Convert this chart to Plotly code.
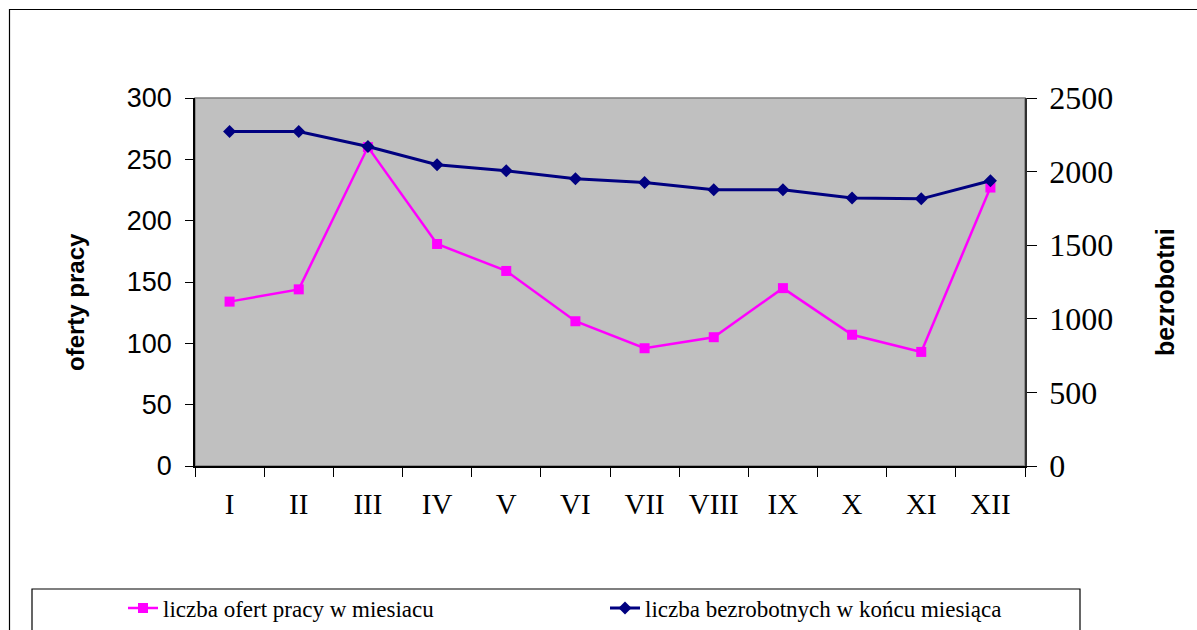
import plotly.graph_objects as go

months = ["I", "II", "III", "IV", "V", "VI", "VII", "VIII", "IX", "X", "XI", "XII"]
oferty = [134, 144, 260, 181, 159, 118, 96, 105, 145, 107, 93, 227]
bezrobotni = [2273, 2273, 2171, 2047, 2006, 1951, 1926, 1877, 1877, 1820, 1815, 1938]
left_ticks = [0, 50, 100, 150, 200, 250, 300]
right_ticks = [0, 500, 1000, 1500, 2000, 2500]

W, H = 1197, 630
L, R, T, B = 195, 1025, 98, 466
pw, ph = R - L, B - T

def px(x):
    return (x - L) / pw

def py(y):
    return (B - y) / ph

SERIF = "Liberation Serif, Times New Roman, serif"
SANS = "Liberation Sans, Arial, sans-serif"

fig = go.Figure()
fig.add_trace(go.Scatter(
    x=months, y=oferty, name="liczba ofert pracy w miesiacu",
    mode="lines+markers",
    line=dict(color="#ff00ff", width=2.5),
    marker=dict(symbol="square", size=10, color="#ff00ff"),
    yaxis="y",
))
fig.add_trace(go.Scatter(
    x=months, y=bezrobotni, name="liczba bezrobotnych w końcu miesiąca",
    mode="lines+markers",
    line=dict(color="#000080", width=3),
    marker=dict(symbol="diamond", size=10, color="#000080"),
    yaxis="y2",
))

fig.update_layout(
    width=W, height=H,
    margin=dict(l=L, r=W - R, t=T, b=H - B, pad=0, autoexpand=False),
    paper_bgcolor="white",
    plot_bgcolor="#c0c0c0",
    showlegend=True,
    legend=dict(
        orientation="h", x=px(123), xanchor="left", y=py(608), yanchor="middle",
        font=dict(family=SERIF, size=23, color="black"),
        entrywidth=437, bgcolor="rgba(0,0,0,0)", borderwidth=0,
    ),
    xaxis=dict(
        type="category", tickmode="array", tickvals=months, ticktext=months,
        tickson="boundaries", ticks="outside", ticklen=9, tickcolor="black",
        showline=True, linecolor="black", linewidth=1.5, mirror=False,
        showgrid=False, zeroline=False, ticklabelstandoff=11, automargin=False,
        tickfont=dict(family=SERIF, size=29, color="black"),
        range=[-0.5, 11.5],
    ),
    yaxis=dict(
        range=[0, 300], tickvals=left_ticks, ticks="outside", ticklen=8,
        tickcolor="black", showline=True, linecolor="black", linewidth=1.5,
        showgrid=False, zeroline=False, ticklabelstandoff=8, automargin=False,
        tickfont=dict(family=SANS, size=27, color="black"),
    ),
    yaxis2=dict(
        range=[0, 2500], tickvals=right_ticks, ticks="outside", ticklen=10,
        tickcolor="black", showline=True, linecolor="#303030", linewidth=1.5,
        overlaying="y", side="right", showgrid=False, zeroline=False,
        ticklabelstandoff=6, automargin=False,
        tickfont=dict(family=SERIF, size=32, color="black"),
    ),
    shapes=[
        dict(type="rect", xref="paper", yref="paper", x0=0, x1=1, y0=0, y1=1,
             line=dict(color="#808080", width=1.5), layer="below"),
        dict(type="rect", xref="paper", yref="paper",
             x0=px(9.5), x1=px(1230), y0=py(680), y1=py(9.5),
             line=dict(color="black", width=1.2)),
        dict(type="rect", xref="paper", yref="paper",
             x0=px(32), x1=px(1080), y0=py(680), y1=py(589),
             line=dict(color="black", width=1.2)),
    ],
    annotations=[
        dict(text="<b>oferty pracy</b>", xref="paper", yref="paper",
             x=px(75), y=py(302), textangle=-90, showarrow=False,
             xanchor="center", yanchor="middle",
             font=dict(family=SANS, size=24, color="black")),
        dict(text="<b>bezrobotni</b>", xref="paper", yref="paper",
             x=px(1165), y=py(292), textangle=-90, showarrow=False,
             xanchor="center", yanchor="middle",
             font=dict(family=SANS, size=25, color="black")),
    ],
)

fig.write_html(
    "out.html",
    config={"displayModeBar": False},
    post_script="document.body.style.margin='0';document.body.style.overflow='hidden';",
)
